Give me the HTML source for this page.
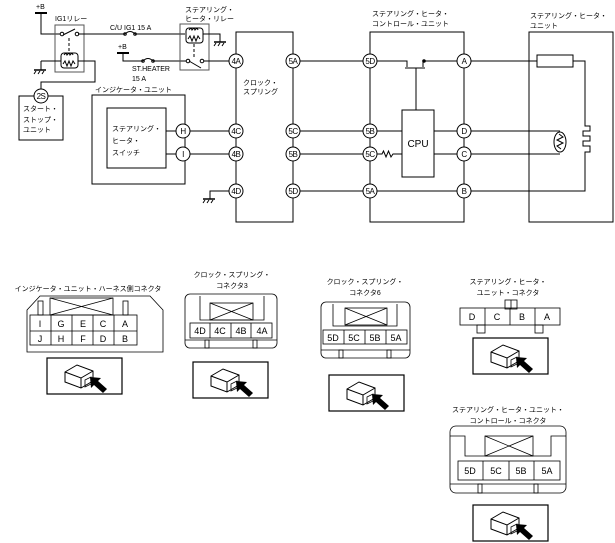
<!DOCTYPE html>
<html><head><meta charset="utf-8"><style>
html,body{margin:0;padding:0;background:#fff}
svg{display:block}
text{font-family:"Liberation Sans","Noto Sans CJK JP",sans-serif;fill:#000}
</style></head><body>
<svg width="615" height="543" viewBox="0 0 615 543" xmlns="http://www.w3.org/2000/svg">
<defs>
<g id="gnd" fill="none" stroke="#000" stroke-width="1">
<line x1="-6" y1="0" x2="6" y2="0" stroke-width="1.5"/>
<line x1="-4" y1="1" x2="-6" y2="4"/><line x1="0" y1="1" x2="-2" y2="4"/><line x1="4" y1="1" x2="2" y2="4"/>
</g>
<g id="ph">
<rect x="0" y="0" width="75" height="36" fill="none" stroke="#000" stroke-width="1.2"/>
<path d="M18,14 l12,-7 l16,6 l0,10 l-12,7 l-16,-6 z M18,14 l16,6 l12,-7 M34,20 l0,10" fill="none" stroke="#000" stroke-width="1"/>
<path d="M38,22 l6,-3 l0,7 l-6,3z" fill="none" stroke="#000" stroke-width="0.8"/>
<path d="M60,31 l-9,-8 l3,-3 l-11,-1 l1,11 l3,-3 l9,8z" fill="#000"/>
</g>
</defs>
<g fill="none" stroke="#000" stroke-width="1">
<line x1="35" y1="13" x2="47" y2="13" stroke-width="2"/>
<polyline points="41,13 41,34 60,34"/>
<rect x="55" y="25" width="29" height="47" stroke="#555"/>
<circle cx="62" cy="34" r="1.8"/><circle cx="77" cy="34" r="1.8"/>
<line x1="63" y1="35" x2="75" y2="29"/>
<line x1="69" y1="38" x2="69" y2="52" stroke-dasharray="3,2"/>
<rect x="61" y="53" width="17" height="15" rx="3"/>
<path d="M64,55 q2,-3 3,0 q2,-3 3,0 q2,-3 3,0"/>
<path d="M63,64 l2,-3 l2,5 l2,-5 l2,5 l2,-5 l2,3"/>
<polyline points="41,61 61,61"/>
<polyline points="41,61 41,70"/>
<polyline points="78,61 95,61 95,82 41,82 41,89"/>
<rect x="19" y="96" width="44" height="44"/>
<polyline points="78,34 125,34"/>
<path d="M125,34 q5,-5 10,0"/><circle cx="125" cy="34" r="1.3"/><circle cx="135" cy="34" r="1.3"/>
<polyline points="135,34 185,34"/>
<line x1="117" y1="53" x2="129" y2="53" stroke-width="2"/>
<polyline points="123,53 123,61 143,61"/>
<path d="M143,61 q5,-5 10,0"/><circle cx="143" cy="61" r="1.3"/><circle cx="153" cy="61" r="1.3"/>
<polyline points="153,61 186,61"/>
<rect x="180" y="24" width="29" height="46" stroke="#555"/>
<rect x="186" y="28" width="17" height="15" rx="3"/>
<path d="M189,30 q2,-3 3,0 q2,-3 3,0 q2,-3 3,0"/>
<path d="M188,39 l2,-3 l2,5 l2,-5 l2,5 l2,-5 l2,3"/>
<line x1="194" y1="44" x2="194" y2="58" stroke-dasharray="3,2"/>
<circle cx="188" cy="61" r="1.8"/><circle cx="202" cy="61" r="1.8"/>
<line x1="189" y1="61" x2="201" y2="68"/>
<polyline points="203,34 220,34 220,42"/>
<polyline points="204,61 229,61"/>
<rect x="236" y="32" width="57" height="190"/>
<rect x="92" y="95" width="93" height="89"/>
<rect x="107" y="108" width="59" height="60"/>
<line x1="166" y1="131" x2="176" y2="131"/><line x1="166" y1="154" x2="176" y2="154"/>
<line x1="190" y1="131" x2="229" y2="131"/><line x1="190" y1="154" x2="229" y2="154"/>
<polyline points="229,191 210,191 210,199"/>
<line x1="300" y1="61" x2="363" y2="61"/>
<line x1="300" y1="131" x2="363" y2="131"/>
<line x1="300" y1="154" x2="363" y2="154"/>
<line x1="300" y1="191" x2="363" y2="191"/>
<rect x="370" y="32" width="94" height="190"/>
<polyline points="377,61 407,61 407,67"/>
<line x1="405" y1="68" x2="425" y2="68"/>
<polyline points="423,67 423,61 457,61"/>
<line x1="416" y1="68" x2="416" y2="110"/>
<circle cx="424" cy="61" r="1.3" fill="#000"/>
<rect x="402" y="110" width="32" height="67"/>
<line x1="377" y1="131" x2="402" y2="131"/>
<polyline points="377,154 382,154 383.5,151 386,157 388.5,151 391,157 393,154 402,154"/>
<line x1="434" y1="131" x2="457" y2="131"/>
<line x1="434" y1="154" x2="457" y2="154"/>
<line x1="377" y1="191" x2="457" y2="191"/>
<rect x="529" y="32" width="84" height="190"/>
<line x1="471" y1="61" x2="537" y2="61"/>
<rect x="537" y="55" width="36" height="12"/>
<polyline points="573,61 585,61 585,126 590,126 590,131 583,131 583,136 590,136 590,141 583,141 583,146 590,146 590,152 585,152 585,191 471,191"/>
<line x1="471" y1="131" x2="560" y2="131"/>
<line x1="471" y1="154" x2="560" y2="154"/>
<ellipse cx="560" cy="142" rx="6" ry="10"/>
<polyline points="559,134 563,137 557,140 563,143 557,146 561,149"/>
</g>
<use href="#gnd" x="40" y="70"/>
<use href="#gnd" x="220" y="42"/>
<use href="#gnd" x="209" y="199"/>
<g fill="#fff" stroke="#000">
<circle cx="41" cy="96" r="7"/>
<circle cx="236" cy="61" r="7"/><circle cx="236" cy="131" r="7"/><circle cx="236" cy="154" r="7"/><circle cx="236" cy="191" r="7"/>
<circle cx="293" cy="61" r="7"/><circle cx="293" cy="131" r="7"/><circle cx="293" cy="154" r="7"/><circle cx="293" cy="191" r="7"/>
<circle cx="183" cy="131" r="7"/><circle cx="183" cy="154" r="7"/>
<circle cx="370" cy="61" r="7"/><circle cx="370" cy="131" r="7"/><circle cx="370" cy="154" r="7"/><circle cx="370" cy="191" r="7"/>
<circle cx="464" cy="61" r="7"/><circle cx="464" cy="131" r="7"/><circle cx="464" cy="154" r="7"/><circle cx="464" cy="191" r="7"/>
</g>
<g font-size="8" text-anchor="middle" letter-spacing="-0.5">
<text x="236" y="64">4A</text><text x="236" y="134">4C</text><text x="236" y="157">4B</text><text x="236" y="194">4D</text>
<text x="293" y="64">5A</text><text x="293" y="134">5C</text><text x="293" y="157">5B</text><text x="293" y="194">5D</text>
<text x="370" y="64">5D</text><text x="370" y="134">5B</text><text x="370" y="157">5C</text><text x="370" y="194">5A</text>
<text x="464" y="64">A</text><text x="464" y="134">D</text><text x="464" y="157">C</text><text x="464" y="194">B</text>
<text x="183" y="134">H</text><text x="183" y="157">I</text><text x="41" y="99">2S</text>
</g>
<text x="418" y="147" font-size="10" text-anchor="middle">CPU</text>
<g font-size="7">
<text x="36" y="9">+B</text><text x="118" y="49">+B</text>
<text x="55" y="21">IG1リレー</text>
<text x="110" y="30">C/U IG1 15 A</text>
<text x="132" y="71">ST.HEATER</text><text x="132" y="81">15 A</text>
<text x="185" y="12">ステアリング・</text><text x="185" y="21">ヒータ・リレー</text>
<text x="23" y="111">スタート・</text><text x="23" y="122">ストップ・</text><text x="23" y="132">ユニット</text>
<text x="95" y="92">インジケータ・ユニット</text>
<text x="112" y="131">ステアリング・</text><text x="112" y="143">ヒータ・</text><text x="112" y="155">スイッチ</text>
<text x="243" y="85">クロック・</text><text x="243" y="94">スプリング</text>
<text x="372" y="16">ステアリング・ヒータ・</text><text x="372" y="26">コントロール・ユニット</text>
<text x="530" y="18">ステアリング・ヒータ・</text><text x="530" y="28">ユニット</text>
</g>
<g font-size="7" text-anchor="middle">
<text x="88" y="291">インジケータ・ユニット・ハーネス側コネクタ</text>
<text x="232" y="277">クロック・スプリング・</text><text x="232" y="288">コネクタ3</text>
<text x="365" y="284">クロック・スプリング・</text><text x="365" y="295">コネクタ6</text>
<text x="508" y="284">ステアリング・ヒータ・</text><text x="508" y="295">ユニット・コネクタ</text>
<text x="508" y="412">ステアリング・ヒータ・ユニット・</text><text x="508" y="423">コントロール・コネクタ</text>
</g>
<g fill="none" stroke="#000" stroke-width="0.8">
<polygon points="27,310 40,296 150,296 163,310 163,352 27,352"/>
<rect x="38" y="301" width="5" height="14"/><rect x="123" y="301" width="5" height="14"/>
<rect x="50" y="298" width="63" height="17"/><line x1="50" y1="298" x2="113" y2="315"/><line x1="50" y1="315" x2="113" y2="298"/>
<rect x="30" y="315" width="107" height="30"/><line x1="30" y1="331" x2="137" y2="331"/>
<line x1="51" y1="315" x2="51" y2="345"/><line x1="72" y1="315" x2="72" y2="345"/><line x1="93" y1="315" x2="93" y2="345"/><line x1="114" y1="315" x2="114" y2="345"/>
<rect x="185" y="294" width="92" height="54" rx="5"/>
<polyline points="200,296 200,320 264,320 264,296"/>
<rect x="210" y="303" width="43" height="17"/><line x1="210" y1="303" x2="253" y2="320"/><line x1="210" y1="320" x2="253" y2="303"/>
<rect x="190" y="323" width="82" height="15"/><line x1="210" y1="323" x2="210" y2="338"/><line x1="231" y1="323" x2="231" y2="338"/><line x1="251" y1="323" x2="251" y2="338"/>
<line x1="185" y1="340" x2="277" y2="340"/><rect x="205" y="340" width="4" height="8"/><rect x="253" y="340" width="4" height="8"/>
<rect x="321" y="302" width="89" height="56" rx="5"/>
<polyline points="333,304 333,326 397,326 397,304"/>
<rect x="345" y="308" width="42" height="17"/><line x1="345" y1="308" x2="387" y2="325"/><line x1="345" y1="325" x2="387" y2="308"/>
<rect x="323" y="330" width="84" height="14"/><line x1="344" y1="330" x2="344" y2="344"/><line x1="365" y1="330" x2="365" y2="344"/><line x1="386" y1="330" x2="386" y2="344"/>
<line x1="321" y1="350" x2="410" y2="350"/><rect x="339" y="350" width="4" height="8"/><rect x="387" y="350" width="4" height="8"/>
<rect x="505" y="300" width="12" height="9"/><line x1="511" y1="300" x2="511" y2="309"/>
<rect x="460" y="308" width="100" height="17"/><line x1="485" y1="308" x2="485" y2="325"/><line x1="510" y1="308" x2="510" y2="325"/><line x1="535" y1="308" x2="535" y2="325"/>
<rect x="477" y="325" width="8" height="8"/><rect x="535" y="325" width="8" height="8"/>
<rect x="450" y="426" width="116" height="67" rx="6"/>
<polyline points="450,436 465,436 465,456 551,456 551,436 566,436"/>
<rect x="485" y="436" width="48" height="20"/><line x1="485" y1="436" x2="533" y2="456"/><line x1="485" y1="456" x2="533" y2="436"/>
<rect x="458" y="461" width="102" height="19"/><line x1="483" y1="461" x2="483" y2="480"/><line x1="509" y1="461" x2="509" y2="480"/><line x1="534" y1="461" x2="534" y2="480"/>
<line x1="450" y1="484" x2="566" y2="484"/><rect x="478" y="484" width="4" height="9"/><rect x="534" y="484" width="4" height="9"/>
</g>
<g font-size="9" text-anchor="middle">
<text x="40" y="327">I</text><text x="61" y="327">G</text><text x="83" y="327">E</text><text x="103" y="327">C</text><text x="125" y="327">A</text>
<text x="40" y="342">J</text><text x="61" y="342">H</text><text x="83" y="342">F</text><text x="103" y="342">D</text><text x="125" y="342">B</text>
<text x="200" y="334">4D</text><text x="220" y="334">4C</text><text x="241" y="334">4B</text><text x="262" y="334">4A</text>
<text x="333" y="341">5D</text><text x="354" y="341">5C</text><text x="375" y="341">5B</text><text x="396" y="341">5A</text>
<text x="472" y="320">D</text><text x="497" y="320">C</text><text x="522" y="320">B</text><text x="547" y="320">A</text>
<text x="470" y="474">5D</text><text x="496" y="474">5C</text><text x="521" y="474">5B</text><text x="547" y="474">5A</text>
</g>
<use href="#ph" x="47" y="358"/>
<use href="#ph" x="193" y="362"/>
<use href="#ph" x="329" y="375"/>
<use href="#ph" x="473" y="338"/>
<use href="#ph" x="473" y="505"/>
</svg>
</body></html>
